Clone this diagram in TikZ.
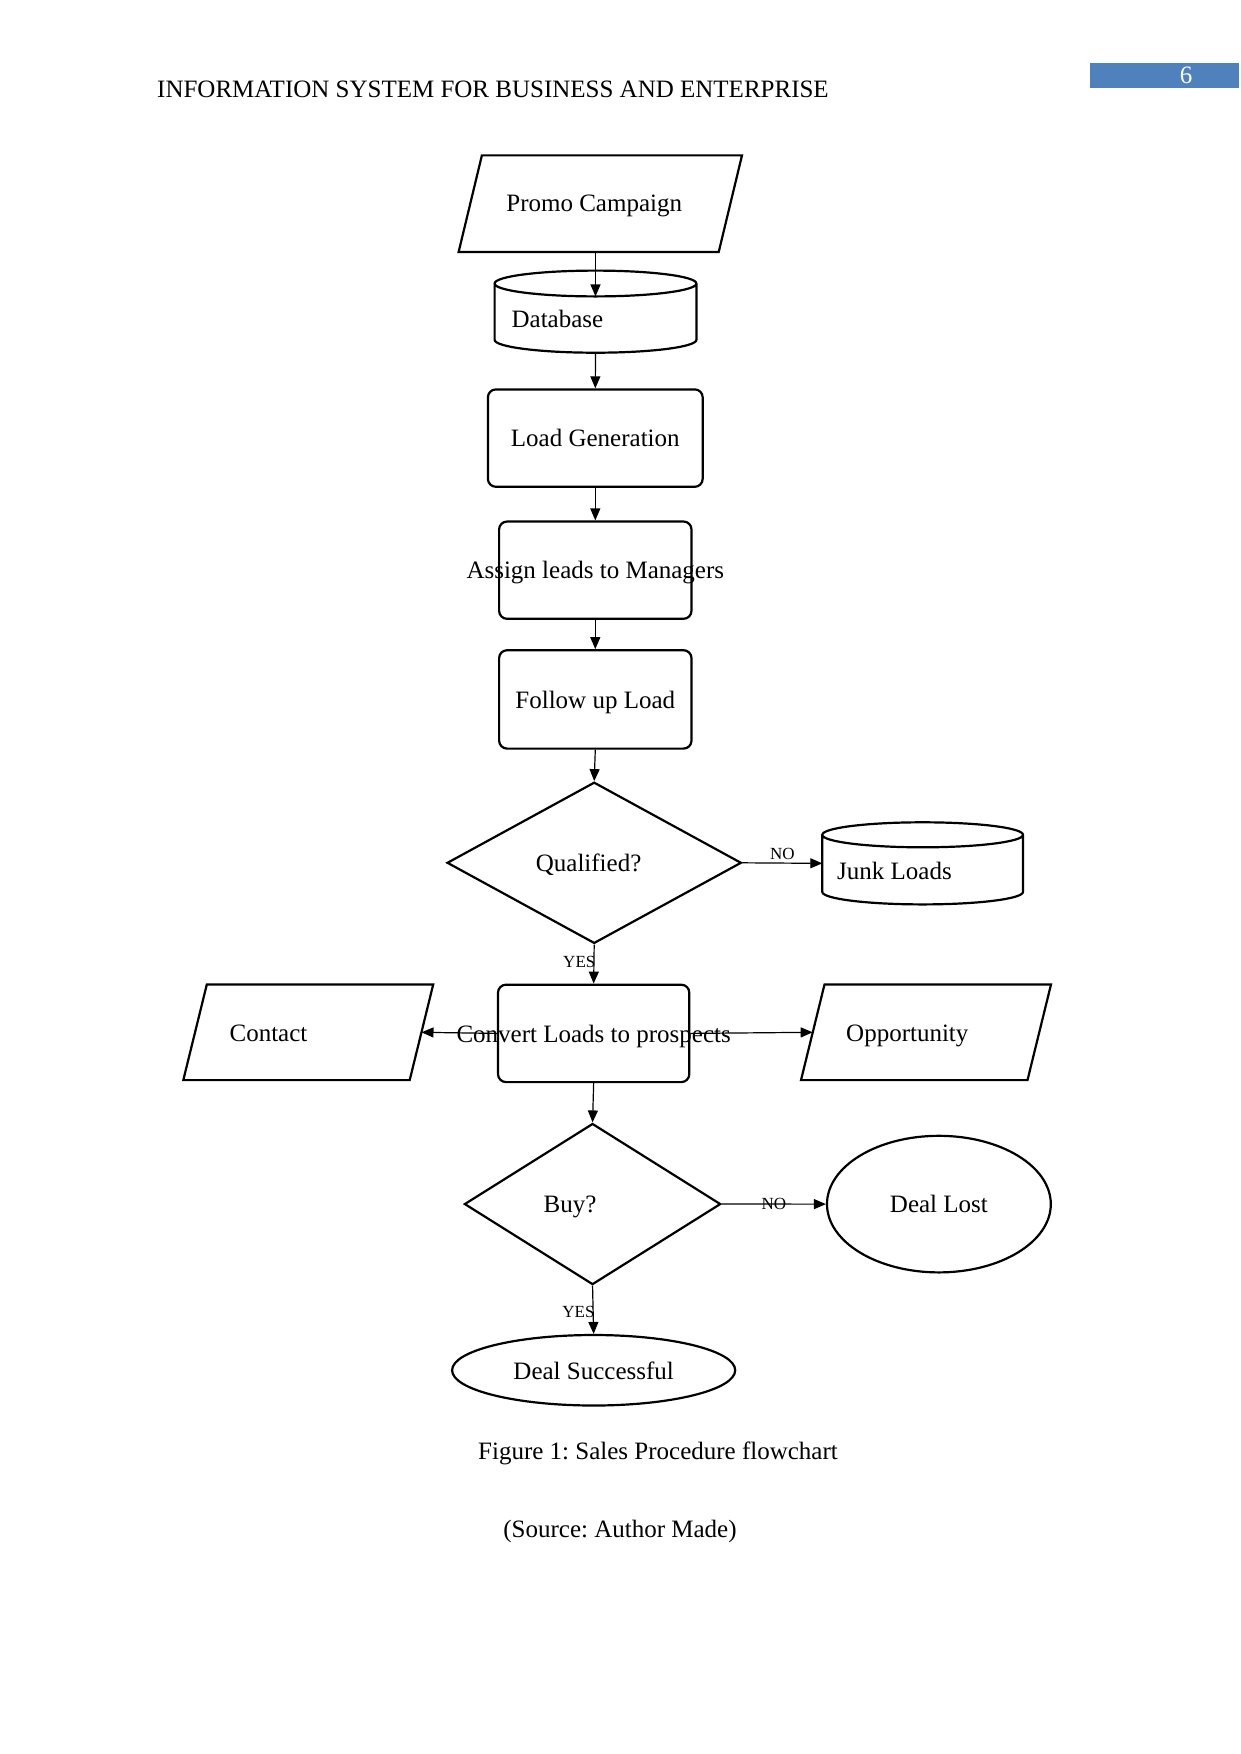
\documentclass[tikz,border=0pt]{standalone}
\usepackage{fontspec}
\setmainfont{Liberation Serif}
\frenchspacing
\usetikzlibrary{
    arrows.meta,
    positioning,
    shapes.geometric,
    calc
}
\definecolor{HeaderBlue}{RGB}{79,129,189}

\tikzset{
    every node/.append style={text depth=0pt},
    border/.style={draw, line width=2.2pt},
    procbox/.style={border, rectangle, rounded corners=8pt, inner sep=0pt},
    iobox/.style={rectangle, inner sep=0pt},
    decision/.style={border, diamond, inner sep=0pt},
    terminal/.style={border, ellipse, inner sep=0pt},
    drumbox/.style={rectangle, inner sep=0pt},
    flow/.style={-{Triangle[length=12pt,width=10pt]}, line width=1.2pt},
    txt/.style={inner sep=0pt},
    branch/.style={font=\fontsize{17}{20}\selectfont, inner sep=1pt}
}

% outline of a drum round a node: #1 node, #2 rim half height
\newcommand{\drumoutline}[2]{%
    \draw[border] let \p1=(#1.north west), \p2=(#1.south east),
        \n1={(\x2-\x1)/2} in
        (\x1,\y1-#2pt) -- (\x1,\y2+#2pt)
        arc[start angle=180, end angle=360, x radius={\n1*1pt}, y radius=#2pt]
        -- (\x2,\y1-#2pt)
        arc[start angle=0, end angle=360, x radius={\n1*1pt}, y radius=#2pt];
}

% outline of a slanted box round a node: #1 node, #2 slant
\newcommand{\slantoutline}[2]{%
    \draw[border] (#1.south west) -- ($(#1.north west)+(#2,0)$)
        -- (#1.north east) -- ($(#1.south east)+(-#2,0)$) -- cycle;
}

\begin{document}
\begin{tikzpicture}[
    x=1pt, y=-1pt,
    font=\fontsize{25}{30}\selectfont
]

\useasboundingbox (0,0) rectangle (1241,1754);

% page header
\node[txt, anchor=west] (title) at (157,89.5)
    {INFORMATION SYSTEM FOR BUSINESS AND ENTERPRISE};
\node[fill=HeaderBlue, minimum width=149pt, minimum height=25.7pt,
    inner sep=0pt] (pagebar) at (1164.5,75.5) {};
\node[txt, text=white] (pageno) at (1186,75) {6};

% flowchart
\node[iobox, minimum width=283pt, minimum height=96.3pt]
    (promo) at (600.3,203.7) {};
\slantoutline{promo}{23.3}
\node[txt] (promo-t) at (594.2,203.7) {Promo Campaign};

\node[drumbox, minimum width=201.4pt, minimum height=81.7pt]
    (db) at (595.5,311.65) {};
\drumoutline{db}{12.9}
\node[txt, anchor=west] (db-t) at (511.4,318.9) {Database};

\node[procbox, minimum width=214.8pt, minimum height=97.4pt]
    (lg) at (595.3,438.1) {Load Generation};

\node[procbox, minimum width=192.4pt, minimum height=97.3pt,
    label=center:Assign leads to Managers] (assign) at (595.3,570.15) {};

\node[procbox, minimum width=192.4pt, minimum height=98.4pt]
    (follow) at (595.3,699.4) {Follow up Load};

\node[decision, minimum width=294.3pt, minimum height=161.2pt]
    (qual) at (594.2,862.8) {};
\node[txt] (qual-t) at (588.6,862.8) {Qualified?};

\node[drumbox, minimum width=200.3pt, minimum height=81.7pt]
    (junk) at (922.65,863.35) {};
\drumoutline{junk}{12.5}
\node[txt, anchor=west] (junk-t) at (837,870.6) {Junk Loads};

\node[procbox, minimum width=191.3pt, minimum height=97.4pt,
    label=center:Convert Loads to prospects] (convert) at (593.65,1033.4) {};

\node[iobox, minimum width=249.5pt, minimum height=95.2pt]
    (contact) at (308.25,1032.3) {};
\slantoutline{contact}{23.5}
\coordinate (contact-in) at ($(contact.east)+(-11.7,0)$);
\node[txt, anchor=west] (contact-t) at (229.4,1032.9) {Contact};

\node[iobox, minimum width=249.6pt, minimum height=95.2pt]
    (opp) at (926,1032.3) {};
\slantoutline{opp}{23.5}
\coordinate (opp-in) at ($(opp.west)+(11.7,0)$);
\node[txt, anchor=west] (opp-t) at (846,1032.9) {Opportunity};

\node[decision, minimum width=256.3pt, minimum height=161.1pt]
    (buy) at (592.55,1204.05) {};
\node[txt] (buy-t) at (570,1204) {Buy?};

\node[terminal, minimum width=223.8pt, minimum height=136.6pt]
    (lost) at (938.9,1204.1) {Deal Lost};

\node[terminal, minimum width=283.1pt, minimum height=70.5pt]
    (ds) at (593.65,1370.25) {Deal Successful};

% caption
\node[txt] (caption) at (658,1450.3) {Figure 1: Sales Procedure flowchart};
\node[txt] (source) at (620,1528.6) {(Source: Author Made)};

% connectors
\coordinate (db-rim) at ($(db.north)+(0,25.8)$);
\draw[flow] (db-rim |- promo.south) -- (db-rim);
\draw[flow] (db.south) -- (lg.north);
\draw[flow] (lg.south) -- (assign.north);
\draw[flow] (assign.south) -- (follow.north);
\draw[flow] (follow.south) -- (qual.north);
\draw[flow] (qual.east) -- node[branch, above, inner sep=3pt] {NO} (junk.west);
\draw[flow] (qual.south)
    -- node[branch, pos=0.45, anchor=east, xshift=3pt] {YES} (convert.north);
\draw[flow] (convert.west) -- (contact-in);
\draw[flow] (convert.east) -- (opp-in);
\draw[flow] (convert.south) -- (buy.north);
\draw[flow] (buy.east) -- node[branch] {NO} (lost.west);
\draw[flow] (buy.south)
    -- node[branch, pos=0.54, anchor=east, xshift=3pt] {YES} (ds.north);

\end{tikzpicture}
\end{document}
